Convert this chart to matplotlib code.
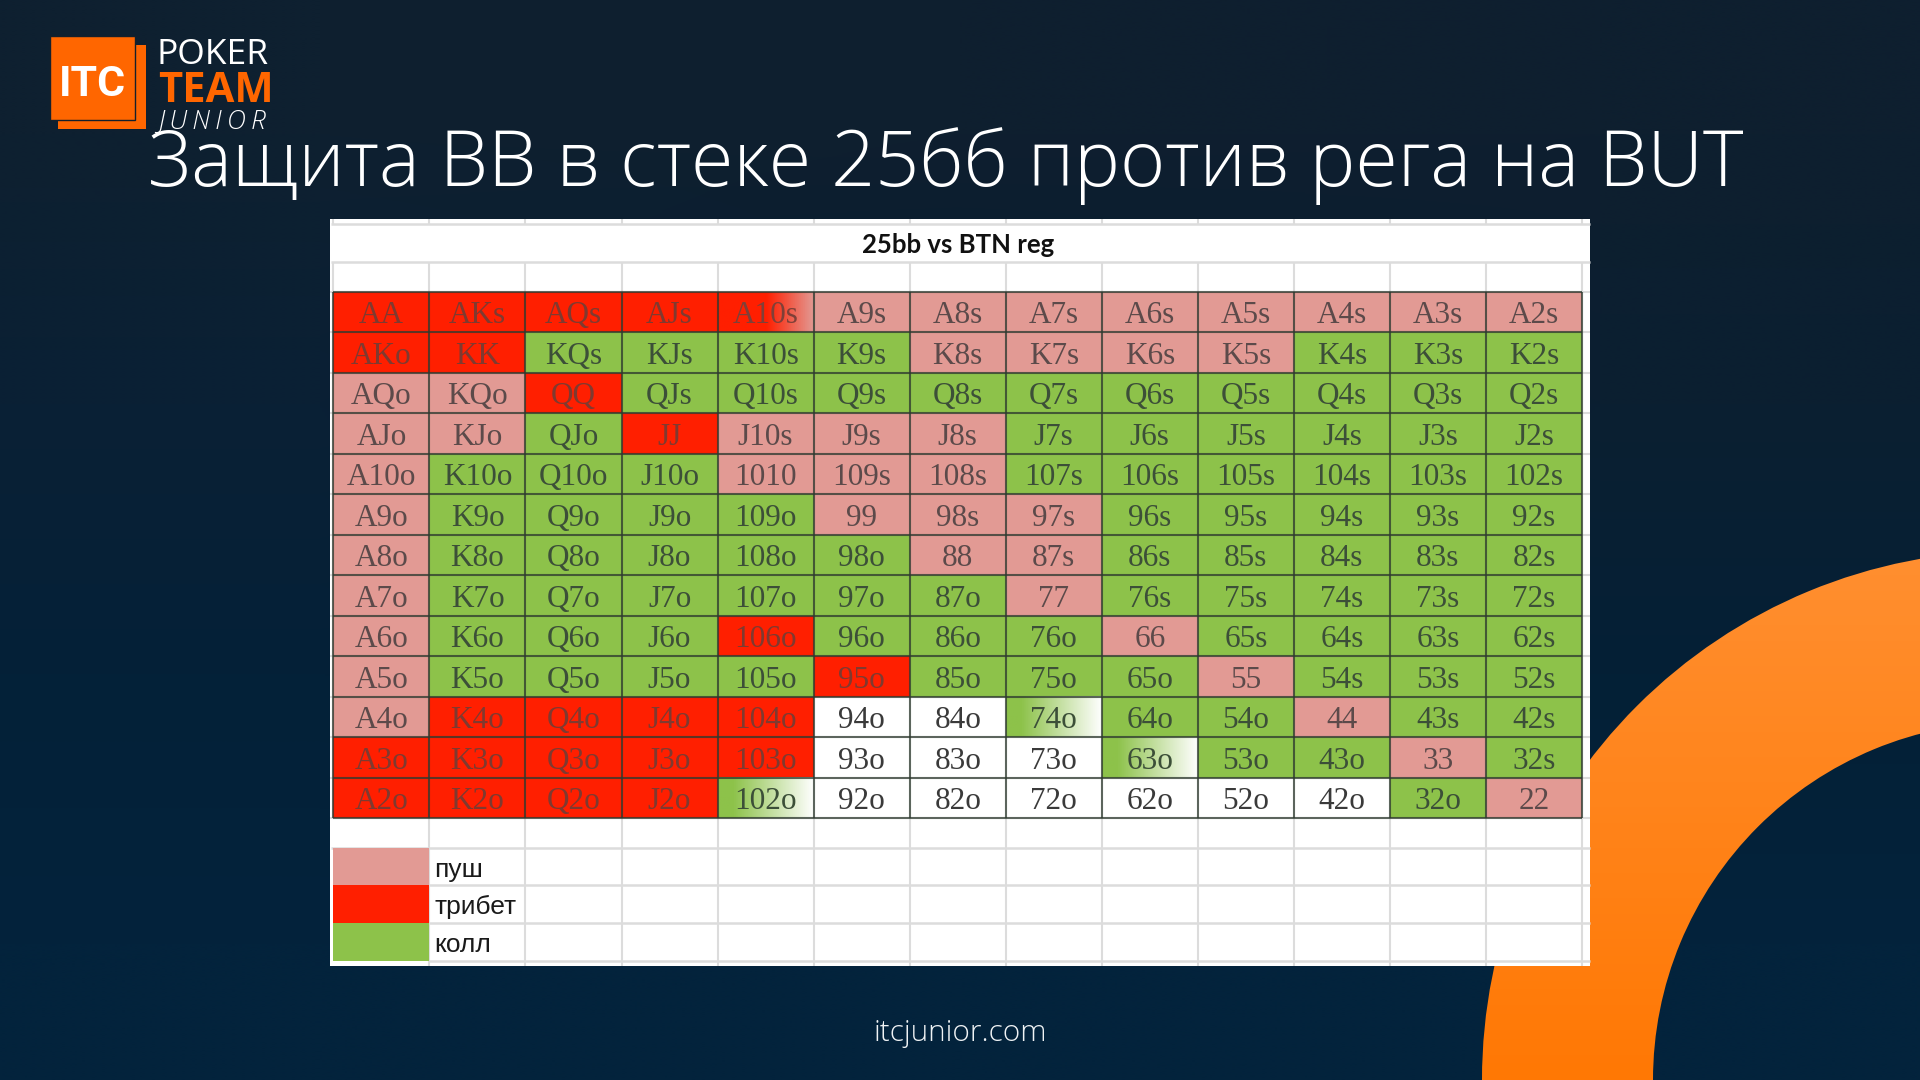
import numpy as np
import matplotlib
matplotlib.use('Agg')
import matplotlib.pyplot as plt
from matplotlib.colors import to_rgb
from matplotlib.patches import Rectangle, Wedge

W, H = 1920, 1080

# hand grid data
ranks = ['A', 'K', 'Q', 'J', '10', '9', '8', '7', '6', '5', '4', '3', '2']
# T tribet, P push, G call, W empty, r red->pink fade, g green->white fade
actions = [
    'TTTTrPPPPPPPP',
    'TTGGGGPPPPGGG',
    'PPTGGGGGGGGGG',
    'PPGTPPPGGGGGG',
    'PGGGPPPGGGGGG',
    'PGGGGPPPGGGGG',
    'PGGGGGPPGGGGG',
    'PGGGGGGPGGGGG',
    'PGGGTGGGPGGGG',
    'PGGGGTGGGPGGG',
    'PTTTTWWgGGPGG',
    'TTTTTWWWgGGPG',
    'TTTTgWWWWWWGP',
]
legend_names = ['пуш', 'трибет', 'колл']
legend_keys = ['P', 'T', 'G']

cell_colors = {'T': '#ff1f00', 'P': '#e29a94', 'G': '#8dc24a', 'W': '#ffffff'}
text_colors = {'T': '#7f3a30', 'P': '#5c4a4a', 'G': '#3c4f38', 'W': '#3a3a3a',
               'r': '#7f4038', 'g': '#3c4f38'}
fades = {'r': ('#ff1f00', '#e29a94', 0.5), 'g': ('#8dc24a', '#ffffff', 0.15)}

GRID_X0, GRID_X1 = 333.4, 1582
GRID_Y0, GRID_Y1 = 291.7, 818
LEG_Y = [848, 885, 922.7, 961]
SHEET = '#dcdcdc'


def hand_label(i, j):
    if i == j:
        return ranks[i] + ranks[j]
    if i < j:
        return ranks[i] + ranks[j] + 's'
    return ranks[j] + ranks[i] + 'o'


fig = plt.figure(figsize=(19.2, 10.8), dpi=100)
bg = fig.add_axes([0, 0, 1, 1])
bg.set_xlim(0, W)
bg.set_ylim(H, 0)
bg.axis('off')

# slide background
corners = np.array([[to_rgb('#0e2030'), to_rgb('#0f1f2f'), to_rgb('#0e1f2f')],
                    [to_rgb('#0a2035'), to_rgb('#041c30'), to_rgb('#0b1f31')],
                    [to_rgb('#042138'), to_rgb('#032036'), to_rgb('#042036')],
                    [to_rgb('#03233c'), to_rgb('#03233c'), to_rgb('#03233c')]])
bg.imshow(corners, extent=(0, W, H, 0), aspect='auto', interpolation='bilinear', zorder=0)

# orange arc
ramp = np.linspace(0, 1, 64)[:, None, None]
orange = (1 - ramp) * np.array(to_rgb('#ff8f30')) + ramp * np.array(to_rgb('#ff7804'))
arc_img = bg.imshow(orange, extent=(1400, W, H, 550), aspect='auto', zorder=1)
arc = Wedge((2011, 1080), 529, 0, 360, width=171, transform=bg.transData)
arc_img.set_clip_path(arc)
bg.set_xlim(0, W)
bg.set_ylim(H, 0)

# logo
bg.add_patch(Rectangle((58, 45), 88, 84, fc='#ff6600', ec='none', zorder=2))
bg.add_patch(Rectangle((50, 36), 85, 84, fc='#ff6600', ec='#14202c', lw=1, zorder=3))
bg.text(93, 84, 'ITC', color='white', fontsize=31, family='Roboto', weight='bold',
        ha='center', va='center', zorder=4)
bg.text(157, 55, 'POKER', color='white', fontsize=25.5, family='Open Sans',
        ha='left', va='center', zorder=4)
bg.text(158, 92, 'TEAM', color='#ff6600', fontsize=30, family='Open Sans', weight='bold',
        ha='left', va='center', zorder=4)
bg.text(158, 122, 'J\u2009U\u2009N\u2009I\u2009O\u2009R', color='white', fontsize=19,
        family='Open Sans', style='italic', weight='light', ha='left', va='center', zorder=4)

# title and footer
bg.text(946, 166, 'Защита ВВ в стеке 25бб против рега на BUT', color='white', fontsize=55.5,
        family='Open Sans', weight='light', ha='center', va='center', zorder=4)
bg.text(960, 1033, 'itcjunior.com', color='#f0f3f5', fontsize=21.4, family='Open Sans',
        weight='light', ha='center', va='center', zorder=4)

# spreadsheet sheet
bg.add_patch(Rectangle((330, 219), 1260, 747, fc='white', ec='none', zorder=5))
col_w = (GRID_X1 - GRID_X0) / 13
col_x = [GRID_X0 + col_w * k for k in range(14)]
row_h = (GRID_Y1 - GRID_Y0) / 13
row_y = [GRID_Y0 + row_h * k for k in range(14)]
bg.hlines([224, 262], 331, 1590, color=SHEET, lw=1.8, zorder=6)
bg.vlines(col_x, 219, 224, color=SHEET, lw=1.5, zorder=6)
bg.vlines(col_x, 262, GRID_Y0, color=SHEET, lw=1.5, zorder=6)
bg.vlines(col_x[1:], GRID_Y1, 966, color=SHEET, lw=1.5, zorder=6)
bg.hlines(LEG_Y, col_x[1], 1590, color=SHEET, lw=1.8, zorder=6)
bg.hlines(LEG_Y[0], 331, col_x[1], color=SHEET, lw=1.8, zorder=6)
bg.hlines(row_y, 330, GRID_X0, color=SHEET, lw=1.5, zorder=6)
bg.hlines(row_y, GRID_X1, 1590, color=SHEET, lw=1.5, zorder=6)
bg.text(958, 245, '25bb vs BTN reg', color='#111111', fontsize=18.5, family='Lato', weight='bold',
        ha='center', va='center', zorder=7)

# legend
for k, (name, key) in enumerate(zip(legend_names, legend_keys)):
    bg.add_patch(Rectangle((col_x[0], LEG_Y[k]), col_w, LEG_Y[k + 1] - LEG_Y[k],
                           fc=cell_colors[key], ec='none', zorder=7))
    bg.text(col_x[1] + 5, (LEG_Y[k] + LEG_Y[k + 1]) / 2 + 3, name, color='#1a1a1a', fontsize=19,
            family='Liberation Sans', ha='left', va='center', zorder=7)

# hand table
ax = fig.add_axes([GRID_X0 / W, 1 - GRID_Y1 / H, (GRID_X1 - GRID_X0) / W, (GRID_Y1 - GRID_Y0) / H])
ax.set_xlim(0, 13)
ax.set_ylim(13, 0)
ax.axis('off')
ax.patch.set_alpha(0)
ax.set_zorder(10)

for i, row in enumerate(actions):
    for j, act in enumerate(row):
        if act in fades:
            c0, c1, start = fades[act]
            t = np.clip((np.linspace(0, 1, 48) - start) / (1 - start), 0, 1)[None, :, None]
            img = (1 - t) * np.array(to_rgb(c0)) + t * np.array(to_rgb(c1))
            ax.imshow(img, extent=(j, j + 1, i + 1, i), aspect='auto', zorder=1)
        else:
            ax.add_patch(Rectangle((j, i), 1, 1, fc=cell_colors[act], ec='none', zorder=1))
        ax.text(j + 0.5, i + 0.6, hand_label(i, j), color=text_colors[act], fontsize=22.5,
                family='Liberation Serif', ha='center', va='center', zorder=3)
ax.set_xlim(0, 13)
ax.set_ylim(13, 0)

lines = np.arange(14)
ax.hlines(lines, 0, 13, color='#2e3a30', alpha=0.78, lw=1.5, zorder=2, clip_on=False)
ax.vlines(lines, 0, 13, color='#2e3a30', alpha=0.78, lw=1.5, zorder=2, clip_on=False)

fig.savefig('out.png', dpi=100)
